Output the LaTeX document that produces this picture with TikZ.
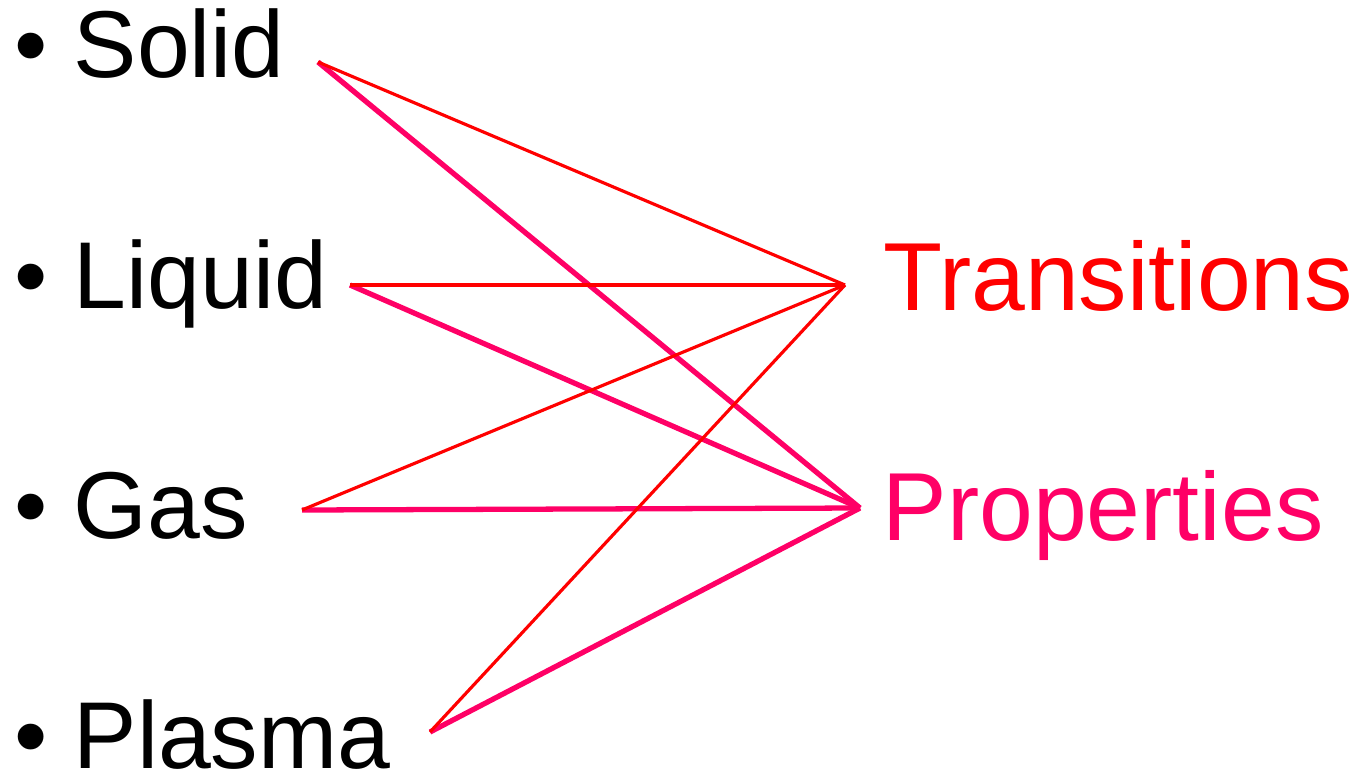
\documentclass[tikz,border=0pt]{standalone}
\usepackage{fontspec}
\setmainfont{Liberation Sans}
\usepackage{tikz}
\definecolor{transred}{RGB}{255,0,0}
\definecolor{propmag}{RGB}{255,0,102}

\begin{document}
\begin{tikzpicture}[
    x=0.01cm, y=-0.01cm,
    lbl/.style={inner sep=0pt, anchor=base west, font=\fontsize{27}{32}\selectfont},
    bul/.style={inner sep=0pt, anchor=base, font=\fontsize{27}{32}\selectfont},
    topic/.style={lbl, font=\fontsize{27.5}{33}\selectfont},
    tline/.style={draw=transred, line width=0.9pt},
    pline/.style={draw=propmag, line width=1.5pt}
]
    \useasboundingbox (0,0) rectangle (1357,772);

    % states of matter
    \node[bul] (b1) at (31,77) {•};
    \node[lbl] (solid) at (73,77) {Solid};
    \node[bul] (b2) at (31,308) {•};
    \node[lbl] (liquid) at (73,308) {Liquid};
    \node[bul] (b3) at (31,538) {•};
    \node[lbl] (gas) at (73,538) {Gas};
    \node[bul] (b4) at (31,768) {•};
    \node[lbl] (plasma) at (73,768) {Plasma};

    % topics
    \node[topic, text=transred] (trans) at (883,310) {Transitions};
    \node[topic, text=propmag] (prop) at (882,540) {Properties};

    % line ends
    \coordinate (sE) at (318,62);
    \coordinate (lE) at (350,285);
    \coordinate (gE) at (302,510);
    \coordinate (pE) at (430,732);
    \coordinate (tW) at (845,285);
    \coordinate (rW) at (860,508);

    \draw[pline] (sE) -- (rW);
    \draw[pline] (lE) -- (rW);
    \draw[pline] (gE) -- (rW);
    \draw[pline] (pE) -- (rW);
    \draw[tline] (sE) -- (tW);
    \draw[tline] (lE) -- (tW);
    \draw[tline] (gE) -- (tW);
    \draw[tline] (pE) -- (tW);
\end{tikzpicture}
\end{document}
